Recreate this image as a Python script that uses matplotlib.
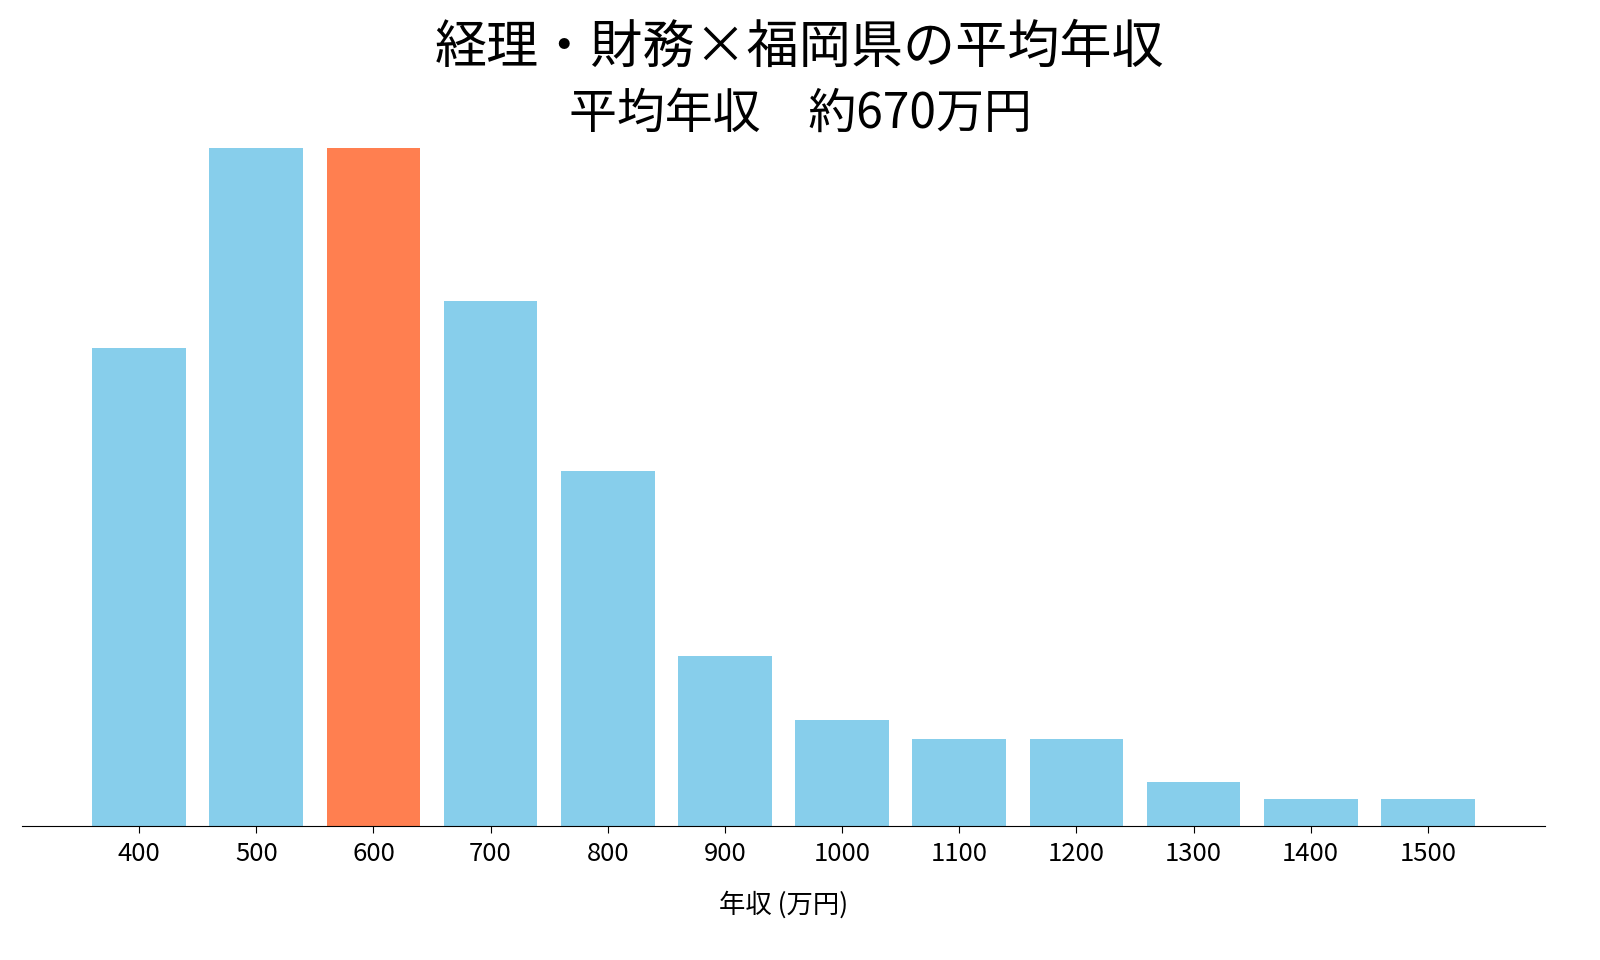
import matplotlib
matplotlib.use("Agg")
import matplotlib.pyplot as plt

plt.rcParams['font.family'] = ['Noto Sans CJK JP', 'DejaVu Sans']

income = [400, 500, 600, 700, 800, 900, 1000, 1100, 1200, 1300, 1400, 1500]
counts = [478, 678, 678, 525, 355, 170, 106, 87, 87, 44, 27, 27]
highlight = 600
colors = ['#FF7F50' if v == highlight else '#87CEEB' for v in income]

fig = plt.figure(figsize=(16, 9.6), dpi=100)
ax = fig.add_axes([22/1600, 1 - 826/960, (1545-22)/1600, (826-148)/960])
ax.bar(income, counts, width=80, color=colors)
ax.set_xlim(300, 1600)
ax.set_ylim(0, max(counts))
ax.set_xticks(income)
ax.set_xticklabels([str(v) for v in income], fontsize=18.5)
ax.set_yticks([])
for s in ['top', 'right', 'left']:
    ax.spines[s].set_visible(False)
ax.tick_params(axis='x', length=5, pad=6)
ax.set_xlabel('年収 (万円)', fontsize=19, labelpad=17)
fig.text(0.5, 1 - 48/960, '経理・財務×福岡県の平均年収', ha='center', va='center', fontsize=37.5)
fig.text(0.5, 1 - 114/960, '平均年収　約670万円', ha='center', va='center', fontsize=34.5)
fig.savefig('out.png', dpi=100)
